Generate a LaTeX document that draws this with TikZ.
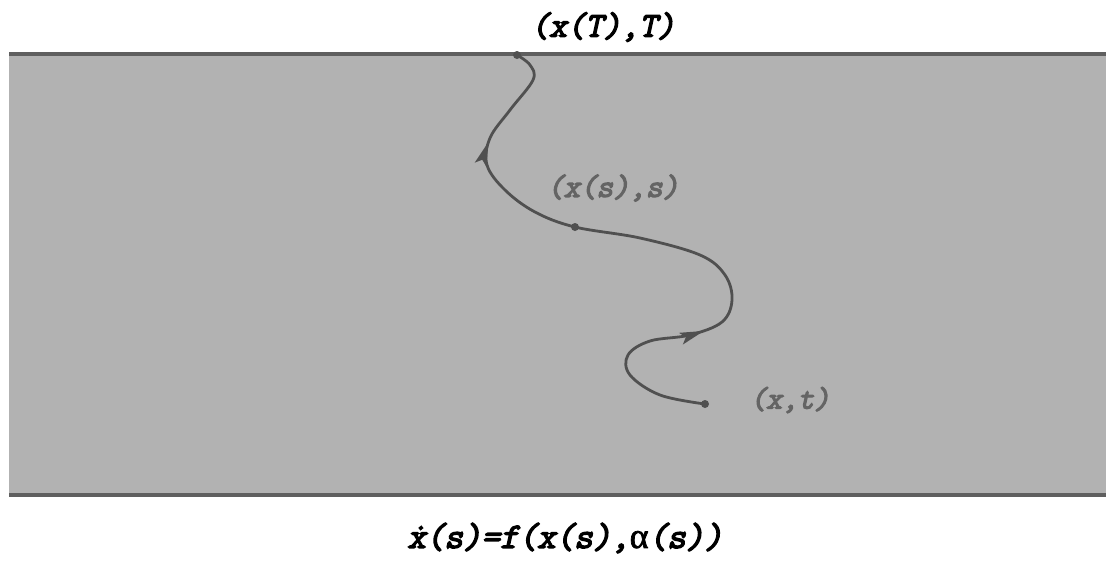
\documentclass[tikz,border=0pt]{standalone}
\usepackage{fontspec}
\newfontfamily\courb[FakeBold=4,FakeSlant=0.22]{Latin Modern Mono}
\newfontfamily\greekf[FakeBold=2]{Liberation Serif}
\usetikzlibrary{decorations.markings,arrows.meta}
\definecolor{band}{RGB}{178,178,178}
\definecolor{edge}{RGB}{95,95,95}
\definecolor{curvec}{RGB}{80,80,80}
\definecolor{lbl}{RGB}{100,100,100}
\begin{document}
\begin{tikzpicture}[x=1pt,y=-1pt,
  dot/.style={circle,fill=curvec,inner sep=0pt,minimum size=8pt},
  lab/.style={font=\courb\fontsize{35}{35}\selectfont, inner sep=0pt},
  glab/.style={lab, font=\courb\fontsize{32}{32}\selectfont, text=lbl},
  edgeline/.style={edge,line width=3.5pt}]
\useasboundingbox (0,0) rectangle (1106,560);
\fill[band] (9,54) rectangle (1106,495);
\coordinate (TL) at (9,54);
\coordinate (TR) at (1106,54);
\coordinate (BL) at (9,495);
\coordinate (BR) at (1106,495);
\draw[edgeline] (TL) -- (TR);
\draw[edgeline] (BL) -- (BR);
\node[dot] (X) at (705,404) {};
\node[dot] (S) at (575,227) {};
\node[dot] (T) at (517,55) {};
\draw[curvec, line width=2.8pt, postaction={decorate},
  decoration={markings,
    mark=at position 0.28 with {\arrow{Stealth[length=24pt,width=12pt,inset=5pt]}},
    mark=at position 0.835 with {\arrow{Stealth[length=24pt,width=12pt,inset=5pt]}}}]
  plot[smooth,tension=0.6] coordinates {(X.center) (660,395) (630,375) (628,355) (650,341) (690,335) (722,322) (732,300) (725,275) (700,255) (640,238) (S.center) (535,212) (505,190) (487,165) (490,138) (510,110) (533,80) (530,65) (T.center)};
\node[lab, text=black] (LT) at (603,27) {(x(T),T)};
\node[glab] (LS) at (613,188) {(x(s),s)};
\node[glab, font=\courb\fontsize{31}{31}\selectfont] (LX) at (790,400) {(x,t)};
\node[lab, text=black, font=\courb\fontsize{36}{36}\selectfont] (EQ) at (565,538) {{\accent"02D9 x}(s)=f(x(s),{\greekf α}(s))};
\end{tikzpicture}
\end{document}
